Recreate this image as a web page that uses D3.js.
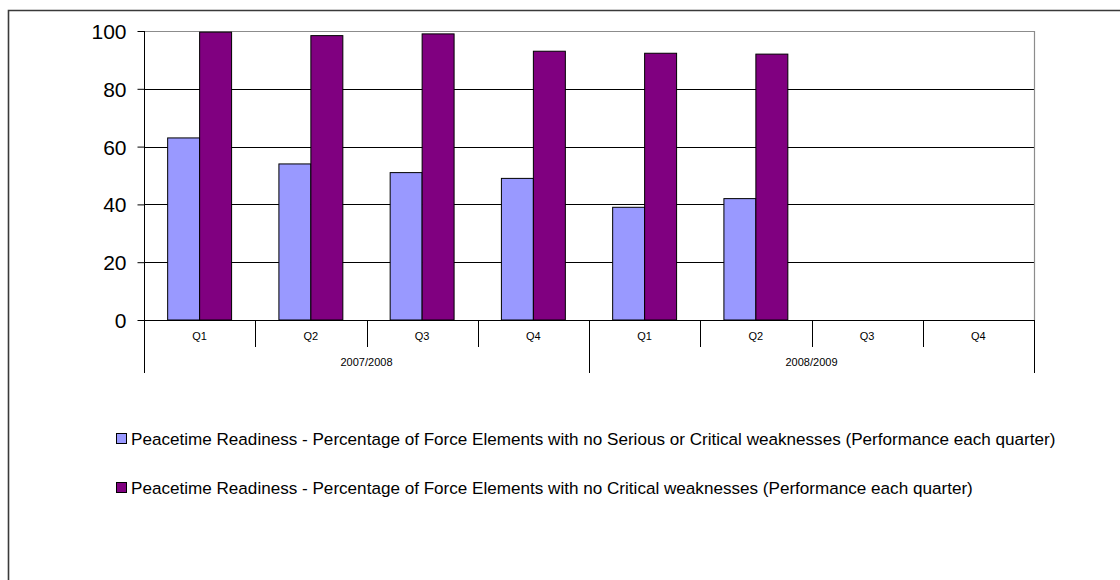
<!DOCTYPE html>
<html>
<head>
<meta charset="utf-8">
<script src="https://cdn.jsdelivr.net/npm/d3@7/dist/d3.min.js"></script>
<style>
  html, body { margin: 0; padding: 0; background: #fff; }
  svg { display: block; font-family: Arial, "Liberation Sans", sans-serif; }
</style>
</head>
<body>
<svg id="chart" width="1120" height="580"></svg>
<script>
// Quarterly readiness figures, two financial years
const quarters = ["Q1", "Q2", "Q3", "Q4", "Q1", "Q2", "Q3", "Q4"];
const years = ["2007/2008", "2008/2009"];
const seriesNames = [
  "Peacetime Readiness - Percentage of Force Elements with no Serious or Critical weaknesses (Performance each quarter)",
  "Peacetime Readiness - Percentage of Force Elements with no Critical weaknesses (Performance each quarter)"
];
const noSeriousOrCritical = [63, 54, 51, 49, 39, 42, null, null];
const noCritical = [99.6, 98.4, 99, 93, 92.3, 92, null, null];
const yTicks = [0, 20, 40, 60, 80, 100];
const seriesColors = ["#9999FF", "#800080"];

const svg = d3.select("#chart");
const W = 1120, H = 580;
const plot = { left: 144, right: 1034, top: 31, bottom: 320 };

svg.append("rect").attr("width", W).attr("height", H).attr("fill", "#fff");

// outer chart frame (runs past the right and bottom edges)
svg.append("path")
  .attr("d", `M${W + 10},10.5 H8.5 V${H + 10}`)
  .attr("fill", "none")
  .attr("stroke", "#3a3a3a")
  .attr("stroke-width", 1.6);

const keys = quarters.map((q, i) => i);
const x = d3.scaleBand().domain(keys).range([plot.left, plot.right]).paddingInner(0).paddingOuter(0);
const xs = d3.scaleBand().domain([0, 1]).range([0, x.bandwidth()]).paddingInner(0).paddingOuter(0.74);
const y = d3.scaleLinear().domain([0, 100]).range([plot.bottom, plot.top]);

// horizontal gridlines
svg.append("g").selectAll("line")
  .data(yTicks.filter(t => t > 0 && t < 100))
  .join("line")
  .attr("x1", plot.left).attr("x2", plot.right)
  .attr("y1", d => Math.round(y(d)) + 0.5).attr("y2", d => Math.round(y(d)) + 0.5)
  .attr("stroke", "#000").attr("stroke-width", 1);

// plot area top/right border
svg.append("path")
  .attr("d", `M${plot.left},${plot.top + 0.5} H${plot.right + 0.5} V${plot.bottom}`)
  .attr("fill", "none").attr("stroke", "#8c8c8c").attr("stroke-width", 1.2);

// bars
const seriesData = [noSeriousOrCritical, noCritical];
seriesData.forEach((vals, s) => {
  svg.append("g").selectAll("rect")
    .data(vals.map((v, i) => ({ i, v })).filter(d => d.v != null))
    .join("rect")
    .attr("x", d => x(d.i) + xs(s))
    .attr("y", d => y(d.v))
    .attr("width", xs.bandwidth())
    .attr("height", d => y(0) - y(d.v))
    .attr("fill", seriesColors[s])
    .attr("stroke", "#000")
    .attr("stroke-width", 1);
});

// y axis
const yAxis = d3.axisLeft(y).tickValues(yTicks).tickSize(7).tickPadding(11).tickFormat(d3.format("d"));
const yg = svg.append("g").attr("transform", `translate(${plot.left + 0.5},0)`).call(yAxis);
yg.select(".domain").attr("stroke", "#000").attr("d", `M0,${plot.top}V${plot.bottom}`);
yg.selectAll(".tick line").attr("stroke", "#000");
yg.selectAll(".tick text").attr("font-size", 21).attr("font-family", "Arial, 'Liberation Sans', sans-serif").attr("fill", "#000").attr("dy", "0.36em");

// x axis baseline
svg.append("line")
  .attr("x1", plot.left).attr("x2", plot.right)
  .attr("y1", plot.bottom + 0.5).attr("y2", plot.bottom + 0.5)
  .attr("stroke", "#000");

// quarter dividers (short) and year dividers (long)
const boundaries = d3.range(quarters.length + 1);
svg.append("g").selectAll("line")
  .data(boundaries)
  .join("line")
  .attr("x1", d => Math.round(plot.left + d * x.step()) + 0.5)
  .attr("x2", d => Math.round(plot.left + d * x.step()) + 0.5)
  .attr("y1", plot.bottom)
  .attr("y2", d => (d % 4 === 0) ? 373 : 347)
  .attr("stroke", "#000");

// quarter labels
svg.append("g").selectAll("text")
  .data(quarters)
  .join("text")
  .attr("x", (d, i) => x(i) + x.bandwidth() / 2)
  .attr("y", 340)
  .attr("text-anchor", "middle")
  .attr("font-size", 11)
  .text(d => d);

// financial year labels
svg.append("g").selectAll("text")
  .data(years)
  .join("text")
  .attr("x", (d, i) => (x(i * 4) + x(i * 4 + 3) + x.bandwidth()) / 2)
  .attr("y", 366)
  .attr("text-anchor", "middle")
  .attr("font-size", 11)
  .text(d => d);

// legend
const legend = svg.append("g");
seriesNames.forEach((name, s) => {
  const cy = 438.5 + s * 49;
  legend.append("rect")
    .attr("x", 116.5).attr("y", cy - 5)
    .attr("width", 10).attr("height", 10)
    .attr("fill", seriesColors[s]).attr("stroke", "#000").attr("stroke-width", 1);
  legend.append("text")
    .attr("x", 131).attr("y", cy + 6.5)
    .attr("font-size", 17.1)
    .text(name);
});
</script>
</body>
</html>
